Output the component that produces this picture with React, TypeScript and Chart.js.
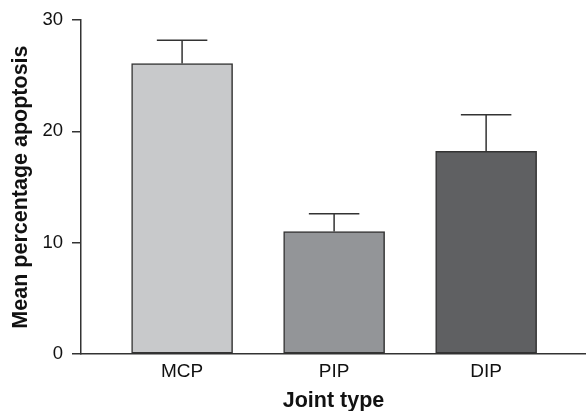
import React, { useEffect, useRef } from 'react';
import { Chart, registerables } from 'chart.js';

Chart.register(...registerables);

const categories = ['MCP', 'PIP', 'DIP'];
const meanValues = [26.1, 11.0, 18.2];
const errorValues = [2.1, 1.6, 3.3];
const barColors = ['#c8c9cb', '#939598', '#5f6062'];
const yTickStep = 10;
const yMin = 0;
const yMax = 30;
const yTitle = 'Mean percentage apoptosis';
const xTitle = 'Joint type';

const FONT = '"Liberation Sans", Arial, Helvetica, sans-serif';
const AXIS = '#333333';

const errorBarPlugin = {
  id: 'errorBars',
  afterDatasetsDraw(chart: any) {
    const meta = chart.getDatasetMeta(0);
    const yScale = chart.scales.y;
    const ctx = chart.ctx;
    ctx.save();
    ctx.strokeStyle = AXIS;
    ctx.lineWidth = 1.5;
    meta.data.forEach((bar: any, i: number) => {
      const top = yScale.getPixelForValue(meanValues[i] + errorValues[i]);
      const half = bar.width / 4;
      ctx.beginPath();
      ctx.moveTo(bar.x, bar.y);
      ctx.lineTo(bar.x, top);
      ctx.moveTo(bar.x - half, top);
      ctx.lineTo(bar.x + half, top);
      ctx.stroke();
    });
    ctx.restore();
  },
};

export default function App() {
  const canvasRef = useRef<HTMLCanvasElement | null>(null);

  useEffect(() => {
    document.body.style.margin = '0';
    const canvas = canvasRef.current;
    if (!canvas) return;
    const chart = new Chart(canvas, {
      type: 'bar',
      data: {
        datasets: [
          {
            data: meanValues.map((v, i) => ({ x: i, y: v })),
            backgroundColor: barColors,
            borderColor: AXIS,
            borderWidth: 1.5,
            borderSkipped: false,
            barThickness: 101,
          } as any,
        ],
      },
      options: {
        responsive: false,
        animation: false,
        devicePixelRatio: 1,
        layout: { padding: { top: 17, right: 0, bottom: 0, left: 0 } },
        plugins: {
          legend: { display: false },
          tooltip: { enabled: false },
        },
        scales: {
          x: {
            type: 'linear',
            min: -0.665,
            max: 2.657,
            offset: false,
            grid: { display: false, offset: false, tickLength: 0, drawTicks: false },
            border: { display: true, color: AXIS, width: 1.5 },
            afterBuildTicks: (s: any) => {
              s.ticks = categories.map((_, i) => ({ value: i }));
            },
            afterFit: (s: any) => {
              s.height = 57;
            },
            ticks: {
              autoSkip: false,
              maxRotation: 0,
              padding: 6,
              color: '#111',
              font: { family: FONT, size: 19 },
              callback: (v: any) => categories[v] ?? '',
            },
            title: {
              display: true,
              text: xTitle,
              color: '#111',
              font: { family: FONT, size: 21.5, weight: 'bold' },
              padding: { top: 0, bottom: -3 },
            },
          },
          y: {
            type: 'linear',
            min: yMin,
            max: yMax,
            grid: {
              drawOnChartArea: false,
              drawTicks: true,
              tickLength: 9,
              color: AXIS,
              lineWidth: 1.5,
            },
            border: { display: true, color: AXIS, width: 1.5 },
            afterFit: (s: any) => {
              s.width = 81;
            },
            ticks: {
              stepSize: yTickStep,
              padding: 9,
              color: '#111',
              font: { family: FONT, size: 18.5 },
            },
            title: {
              display: true,
              text: yTitle,
              color: '#111',
              font: { family: FONT, size: 21.5, weight: 'bold' },
              padding: { top: 8, bottom: 0 },
            },
          },
        },
      } as any,
      plugins: [errorBarPlugin],
    });
    return () => chart.destroy();
  }, []);

  return (
    <div style={{ position: 'absolute', left: 0, top: 0, width: 586, height: 411 }}>
      <canvas ref={canvasRef} width={586} height={411} style={{ width: 586, height: 411 }} />
    </div>
  );
}
